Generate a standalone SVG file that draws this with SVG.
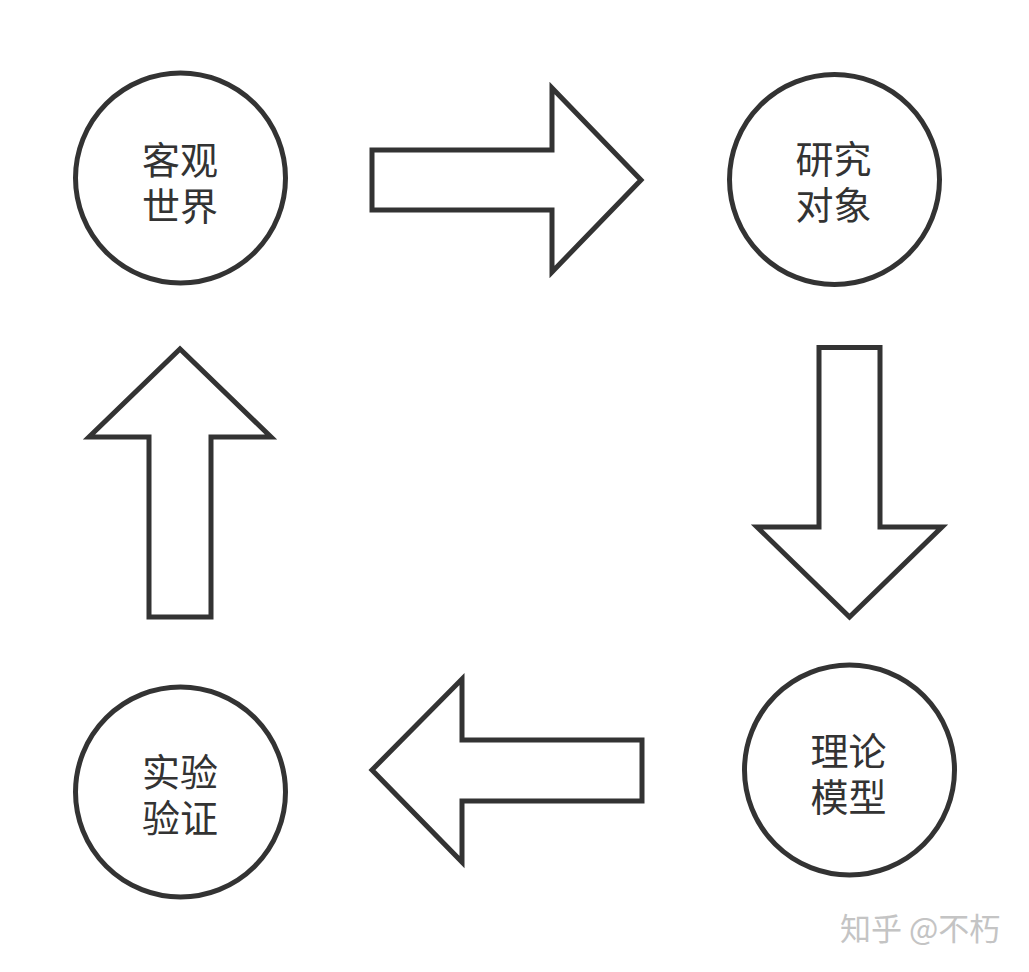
<svg xmlns="http://www.w3.org/2000/svg" width="1029" height="972" viewBox="0 0 1029 972">
<style>
.node{fill:#fff;stroke:#333;stroke-width:5}
.arrow{fill:#fff;stroke:#333;stroke-width:5;stroke-linejoin:miter}
.lbl{font-family:"Noto Sans CJK SC","Noto Sans",sans-serif;font-size:38px;fill:#333;text-anchor:middle}
.wm{font-family:"Noto Sans CJK SC","Noto Sans",sans-serif;font-size:31px;fill:#c4c4c4}
</style>
<rect width="1029" height="972" fill="#fff"/>
<g id="node-keguan">
<circle class="node" cx="180.5" cy="178" r="105"/>
<text class="lbl"><tspan x="180" y="174">客观</tspan><tspan x="180" y="220">世界</tspan></text>
</g>
<g id="node-yanjiu">
<circle class="node" cx="834.5" cy="179.5" r="105"/>
<text class="lbl"><tspan x="833.5" y="173">研究</tspan><tspan x="833.5" y="219">对象</tspan></text>
</g>
<g id="node-lilun">
<circle class="node" cx="849.5" cy="770" r="105"/>
<text class="lbl"><tspan x="848.5" y="765">理论</tspan><tspan x="848.5" y="811">模型</tspan></text>
</g>
<g id="node-shiyan">
<circle class="node" cx="180.5" cy="792" r="105"/>
<text class="lbl"><tspan x="180" y="786">实验</tspan><tspan x="180" y="832">验证</tspan></text>
</g>
<g id="connectors">
<polygon class="arrow" points="372,150 552,150 552,88 641,180 552,272 552,210 372,210"/>
<polygon class="arrow" points="819,347.5 880,347.5 880,527 942,527 849.5,617 757,527 819,527"/>
<polygon class="arrow" points="642,740 462,740 462,679 372,770 462,862 462,801 642,801"/>
<polygon class="arrow" points="149,617 149,437 89,437 180,349 271,437 211,437 211,617"/>
</g>
<text class="wm" x="840" y="940">知乎 @不朽</text>
</svg>
